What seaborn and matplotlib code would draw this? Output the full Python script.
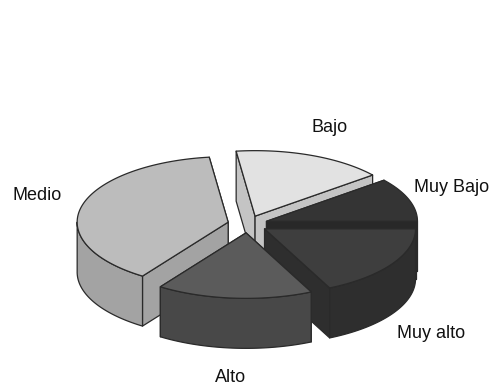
import numpy as np
import matplotlib
matplotlib.use("Agg")
import matplotlib.pyplot as plt
import seaborn as sns

# Data, counter-clockwise from the 3 o'clock position
categories = ["Muy Bajo", "Bajo", "Medio", "Alto", "Muy alto"]
values = [10.8, 16.2, 38.4, 16.7, 17.9]

# Styles
top_colors = ["#343434", "#e2e2e2", "#bcbcbc", "#5b5b5b", "#3e3e3e"]
side_colors = ["#282828", "#c4c4c4", "#a3a3a3", "#484848", "#2e2e2e"]
draw_order = ["Bajo", "Medio", "Muy Bajo", "Muy alto", "Alto"]
label_pos = {"Muy Bajo": (452, 187), "Bajo": (330, 127), "Medio": (37, 195),
             "Alto": (231, 378), "Muy alto": (431, 333)}

# Projection of the pie
cx, cy = 247.6, 224.2
rx, ry = 151.0, 65.5
depth = 50.0
explode = 0.1325

sns.set_theme(style="white")
plt.rcParams["font.family"] = ["Liberation Sans", "DejaVu Sans"]

fig = plt.figure(figsize=(4.91, 3.88), dpi=100, facecolor="white")
ax = fig.add_axes([0, 0, 1, 1])
ax.set_xlim(0, 491)
ax.set_ylim(388, 0)
ax.axis("off")

edges = np.concatenate([[0], np.cumsum(values)]) / np.sum(values) * 2 * np.pi
style = dict(edgecolor="#2a2a2a", linewidth=0.9, joinstyle="round")

def pt(ox, oy, t):
    return ox + rx * np.cos(t), oy - ry * np.sin(t)

def draw_wedge(i):
    t1, t2 = edges[i], edges[i + 1]
    mid = (t1 + t2) / 2
    ox = cx + explode * rx * np.cos(mid)
    oy = cy - explode * ry * np.sin(mid)

    # cut faces: the one reaching further down the page goes last
    cuts = sorted([t1, t2], key=lambda t: pt(ox, oy, t)[1])
    for t in cuts:
        ex, ey = pt(ox, oy, t)
        ax.fill([ox, ex, ex, ox], [oy, ey, ey + depth, oy + depth],
                facecolor=side_colors[i], zorder=i_z[i], **style)

    # outer rim: only its front half can be seen
    lo, hi = max(t1, np.pi), min(t2, 2 * np.pi)
    if hi > lo:
        t = np.linspace(lo, hi, 120)
        x, y = pt(ox, oy, t)
        ax.fill(np.r_[x, x[::-1]], np.r_[y, y[::-1] + depth],
                facecolor=side_colors[i], zorder=i_z[i], **style)

    # top face
    t = np.linspace(t1, t2, 200)
    x, y = pt(ox, oy, t)
    ax.fill(np.r_[ox, x], np.r_[oy, y], facecolor=top_colors[i],
            zorder=i_z[i], **style)

i_z = {categories.index(name): z + 1 for z, name in enumerate(draw_order)}
for name in draw_order:
    draw_wedge(categories.index(name))

for name in categories:
    x, y = label_pos[name]
    ax.text(x, y, name, ha="center", va="center", fontsize=13, color="#111111", zorder=10)

fig.savefig("out.png", dpi=100, facecolor="white")
